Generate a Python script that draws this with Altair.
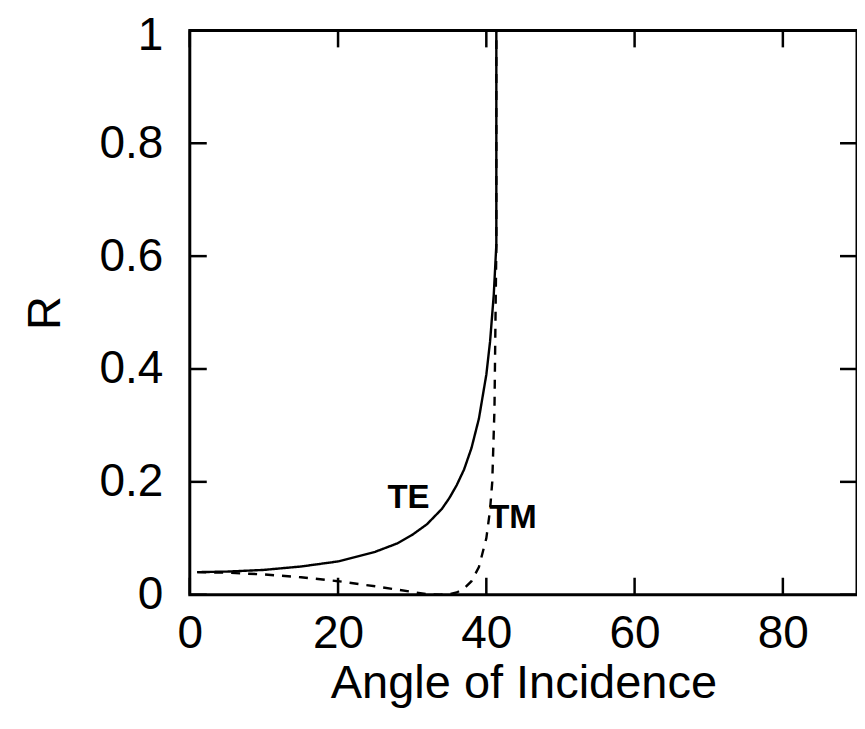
import altair as alt
import pandas as pd

# --- data ---
te_angle = [1, 5, 10, 15, 20, 25, 28, 30, 32, 34, 35, 36, 37, 38, 39, 40, 40.5, 41, 41.35, 41.35, 90]
te_r = [0.040, 0.041, 0.044, 0.050, 0.059, 0.076, 0.091, 0.106, 0.125, 0.152, 0.171, 0.194,
        0.222, 0.260, 0.312, 0.390, 0.448, 0.531, 0.620, 1.0, 1.0]
tm_angle = [1, 5, 10, 15, 20, 25, 28, 30, 32, 33.7, 35, 36, 37, 38, 39, 40, 40.5, 40.8, 41.1, 41.35, 41.35, 90]
tm_r = [0.040, 0.039, 0.036, 0.031, 0.024, 0.015, 0.009, 0.005, 0.001, 0.0, 0.001, 0.004,
        0.011, 0.024, 0.049, 0.100, 0.150, 0.200, 0.330, 0.620, 1.0, 1.0]

x_ticks = [0, 20, 40, 60, 80]
y_ticks = [0, 0.2, 0.4, 0.6, 0.8, 1]

label_text = ["TE", "TM"]
label_x = [29.5, 43.6]
label_y = [0.172, 0.136]

W, H = 668, 565
FONT = "Liberation Sans"

rows = []
for i, (a, r) in enumerate(zip(te_angle, te_r)):
    rows.append({"angle": a, "R": r, "pol": "TE", "idx": i})
for i, (a, r) in enumerate(zip(tm_angle, tm_r)):
    rows.append({"angle": a, "R": r, "pol": "TM", "idx": i})
df = pd.DataFrame(rows)

xscale = alt.Scale(domain=[0, 90], nice=False, zero=False)
yscale = alt.Scale(domain=[0, 1], nice=False, zero=False)

lines = alt.Chart(df).mark_line(strokeWidth=2.4, color="black", clip=True).encode(
    x=alt.X("angle:Q", scale=xscale,
            axis=alt.Axis(values=x_ticks, title="Angle of Incidence", format="d")),
    y=alt.Y("R:Q", scale=yscale,
            axis=alt.Axis(values=y_ticks, title="R",
                          labelOffset={"condition": {"test": "datum.value == 1", "value": 5}, "value": 0},
                          labelExpr="datum.value == 0 ? '0' : datum.value == 1 ? '1' : format(datum.value, '.1f')")),
    strokeDash=alt.StrokeDash("pol:N", scale=alt.Scale(domain=["TE", "TM"], range=[[1, 0], [9, 8]]), legend=None),
    detail="pol:N",
    order="idx:Q",
)

xt = pd.DataFrame({"v": x_ticks})
yt = pd.DataFrame({"v": y_ticks})

tick_b = alt.Chart(xt).mark_rule(strokeWidth=2.5, color="black").encode(
    x=alt.X("v:Q", scale=xscale), y=alt.value(H), y2=alt.value(H - 17))
tick_t = alt.Chart(xt).mark_rule(strokeWidth=2.5, color="black").encode(
    x=alt.X("v:Q", scale=xscale), y=alt.value(0), y2=alt.value(17))
tick_l = alt.Chart(yt).mark_rule(strokeWidth=2.5, color="black").encode(
    y=alt.Y("v:Q", scale=yscale), x=alt.value(0), x2=alt.value(17))
tick_r = alt.Chart(yt).mark_rule(strokeWidth=2.5, color="black").encode(
    y=alt.Y("v:Q", scale=yscale), x=alt.value(W), x2=alt.value(W - 17))

ldf = pd.DataFrame({"t": label_text, "x": label_x, "y": label_y})
labels = alt.Chart(ldf).mark_text(font=FONT, fontSize=33, fontWeight="bold", color="black").encode(
    x=alt.X("x:Q", scale=xscale), y=alt.Y("y:Q", scale=yscale), text="t:N")

chart = alt.layer(lines, tick_b, tick_t, tick_l, tick_r, labels).properties(
    width=W, height=H,
    autosize=alt.AutoSizeParams(type="none"),
    padding={"left": 182, "top": 22, "right": 0, "bottom": 126},
).configure_view(
    stroke="black", strokeWidth=3
).configure_axis(
    domain=False, ticks=False, grid=False, labelFlush=False,
    labelFont=FONT, labelFontSize=46, labelColor="black",
    titleFont=FONT, titleFontSize=47, titleFontWeight="normal", titleColor="black",
).configure_axisX(
    labelPadding=17, titlePadding=4,
).configure_axisY(
    labelPadding=27, titlePadding=29,
)

chart.save("out.html", embed_options={"renderer": "svg", "actions": False})
